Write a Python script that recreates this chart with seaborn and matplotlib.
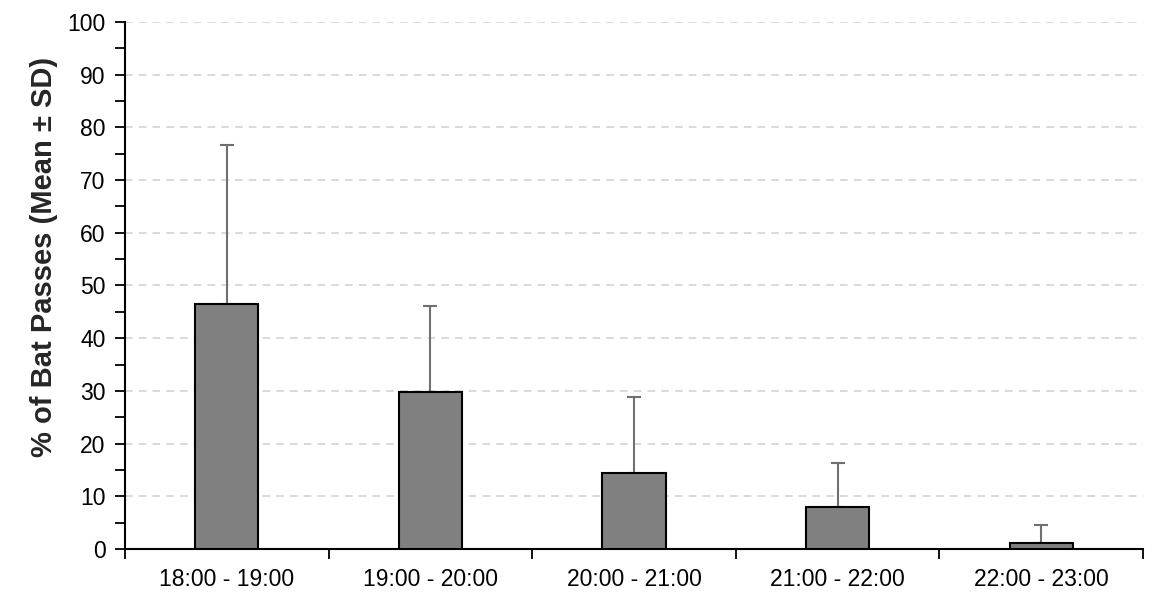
import numpy as np
import pandas as pd
import matplotlib
matplotlib.use("Agg")
import matplotlib.pyplot as plt
import seaborn as sns
from matplotlib.ticker import MultipleLocator, FixedLocator

# Hourly activity: mean share of bat passes and its standard deviation
hours = ["18:00 - 19:00", "19:00 - 20:00", "20:00 - 21:00", "21:00 - 22:00", "22:00 - 23:00"]
mean_pct = [46.5, 29.8, 14.4, 7.9, 1.2]
sd_pct = [30.1, 16.3, 14.5, 8.5, 3.3]

df = pd.DataFrame({"hour": hours, "mean": mean_pct, "sd": sd_pct})

sns.set_style("white")
plt.rcParams["font.family"] = ["Liberation Sans", "DejaVu Sans"]

fig = plt.figure(figsize=(11.53, 5.94), dpi=100)
ax = fig.add_axes([0.1084, 0.0758, 0.8829, 0.8872])

# dashed horizontal gridlines behind the bars
ax.set_axisbelow(True)
ax.yaxis.grid(True, linestyle=(0, (5, 4)), color="#d0d0d0", linewidth=1.1)

sns.barplot(data=df, x="hour", y="mean", color="#808080", width=0.31,
            edgecolor="black", linewidth=1.5, saturation=1, ax=ax, zorder=3)

# upper-only standard deviation whiskers
ax.errorbar(np.arange(len(hours)), df["mean"], yerr=[np.zeros(len(hours)), df["sd"]],
            fmt="none", ecolor="#707070", elinewidth=1.5, capsize=4.7, capthick=1.5, zorder=2)

ax.set_xlim(-0.5, len(hours) - 0.5)
ax.set_ylim(0, 100)
ax.yaxis.set_major_locator(MultipleLocator(10))
ax.yaxis.set_minor_locator(MultipleLocator(5))

# category boundaries carry the x tick marks
ax.xaxis.set_minor_locator(FixedLocator(np.arange(-0.5, len(hours), 1.0)))
ax.tick_params(axis="x", which="major", length=0, labelsize=16.5, pad=14, colors="black")
ax.tick_params(axis="x", which="minor", length=7, width=1.3, direction="out", color="black", bottom=True)
ax.tick_params(axis="y", which="major", length=7, width=1.3, direction="out", left=True,
               labelsize=16.5, colors="black", pad=7)
ax.tick_params(axis="y", which="minor", length=7, width=1.3, direction="out", left=True, color="black")

for side in ["top", "right"]:
    ax.spines[side].set_visible(False)
for side in ["left", "bottom"]:
    ax.spines[side].set_color("black")
    ax.spines[side].set_linewidth(1.5)

ax.set_xlabel("")
ax.set_ylabel("% of Bat Passes (Mean ± SD)", fontsize=21, fontweight="bold")
ax.yaxis.set_label_coords(-0.066, 0.554)

fig.savefig("out.png", dpi=100, facecolor="white")
